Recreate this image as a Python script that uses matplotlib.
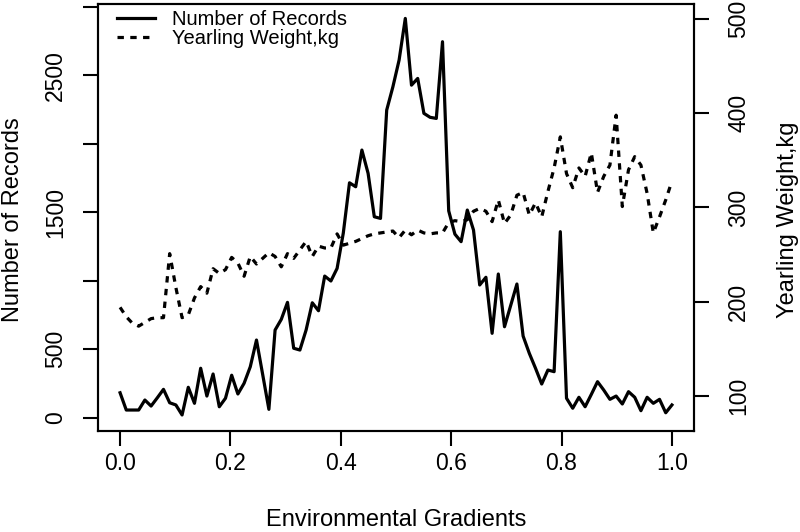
import matplotlib.pyplot as plt
import numpy as np

plt.rcParams['font.family'] = ['Liberation Sans', 'DejaVu Sans']

# environmental gradient bins (90 evenly spaced points from 0 to 1)
gradient = np.linspace(0, 1, 90)

records = [182, 56, 56, 56, 129, 85, 145, 207, 109, 93,
           20, 222, 105, 361, 158, 319, 80, 142, 310, 173,
           251, 372, 567, 315, 61, 640, 718, 842, 507, 494,
           640, 839, 781, 1034, 998, 1090, 1348, 1715, 1686, 1954,
           1784, 1467, 1455, 2246, 2416, 2611, 2915, 2428, 2477, 2222,
           2193, 2185, 2745, 1510, 1340, 1285, 1516, 1370, 969, 1025,
           616, 1049, 664, 820, 976, 596, 470, 361, 246, 348,
           336, 1358, 142, 69, 149, 80, 170, 263, 202, 134,
           158, 100, 190, 149, 51, 149, 105, 134, 36, 93]

weight = [194, 184, 177, 174, 178, 182, 183, 183, 251, 215,
          183, 186, 204, 216, 209, 235, 230, 234, 247, 241,
          227, 248, 240, 246, 252, 248, 237, 251, 246, 255,
          264, 248, 259, 257, 257, 272, 260, 262, 264, 267,
          270, 272, 273, 274, 275, 268, 276, 271, 276, 273,
          272, 273, 273, 284, 286, 285, 287, 296, 299, 296,
          285, 308, 283, 292, 313, 316, 292, 305, 290, 317,
          342, 375, 336, 321, 342, 333, 358, 316, 333, 345,
          398, 301, 340, 354, 345, 315, 273, 290, 308, 328]

left_ticks = [0, 500, 1000, 1500, 2000, 2500, 3000]
left_labels = ['0', '500', '', '1500', '', '2500', '']
right_ticks = [100, 200, 300, 400, 500]
x_ticks = [0.0, 0.2, 0.4, 0.6, 0.8, 1.0]

fig = plt.figure(figsize=(8, 5.32), dpi=100)
ax = fig.add_axes([0.1225, 0.1904, 0.745, 0.802])
ax2 = ax.twinx()

l1, = ax.plot(gradient, records, color='black', lw=2.3,
              solid_joinstyle='round')
l2, = ax2.plot(gradient, weight, color='black', lw=2.3,
               linestyle=(0, (2, 2)), dash_capstyle='butt')

ax.set_xlim(-0.04, 1.04)
ax.set_ylim(-95, 3020)
ax2.set_ylim(63, 516)

ax.set_xticks(x_ticks)
ax.set_xticklabels(['0.0', '0.2', '0.4', '0.6', '0.8', '1.0'])
ax.set_yticks(left_ticks)
ax.set_yticklabels(left_labels, rotation=90, va='center')
ax2.set_yticks(right_ticks)
ax2.set_yticklabels([str(v) for v in right_ticks], rotation=90, va='center')

ax.tick_params(axis='x', direction='out', length=10.8, width=1.5,
               labelsize=16.5, pad=4.5)
ax.tick_params(axis='y', direction='out', length=10.8, width=1.5,
               labelsize=16.5, pad=11.5)
ax2.tick_params(axis='y', direction='out', length=10.8, width=1.5,
                labelsize=16.5, pad=13.2)

for a in (ax, ax2):
    for s in a.spines.values():
        s.set_linewidth(1.5)

ax.set_xlabel('Environmental Gradients', fontsize=17, va='center')
ax.xaxis.set_label_coords(0.5, -0.209)
ax.set_ylabel('Number of Records', fontsize=17, va='center', ha='center')
ax.yaxis.set_label_coords(-0.143, 0.494)
ax2.set_ylabel('Yearling Weight,kg', fontsize=17, va='center', ha='center',
               rotation=90)
ax2.yaxis.set_label_coords(1.158, 0.494)

ax.legend([l1, l2], ['Number of Records', 'Yearling Weight,kg'],
          loc='upper left', bbox_to_anchor=(0.0314, 0.985), frameon=False,
          fontsize=14.5, handlelength=1.9, handletextpad=0.83,
          labelspacing=0.0, borderaxespad=0, borderpad=0)

fig.savefig('out.png', dpi=100)
